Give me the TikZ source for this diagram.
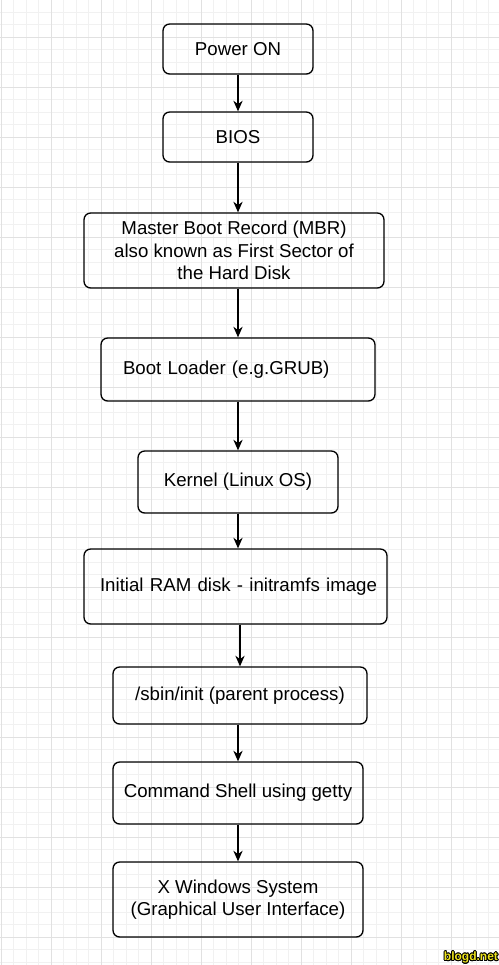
\documentclass[tikz,border=0pt]{standalone}
\usepackage{fontspec}
\setmainfont{Liberation Sans}
\usepackage{xcolor}
\usepackage[copies]{contour}
\usetikzlibrary{arrows.meta,positioning}
\definecolor{gridminor}{RGB}{241,241,241}
\definecolor{gridmajor}{RGB}{225,225,225}
\definecolor{wmyellow}{RGB}{238,228,30}
\tikzstyle{stepbox} = [draw, line width=1pt, rounded corners=5pt, align=center, inner sep=0pt, font=\fontsize{14}{16.8}\selectfont]
\tikzstyle{arrow} = [line width=1pt,->,>={Stealth[length=8pt,width=7pt]}]
\contourlength{0.6pt}

\begin{document}
\begin{tikzpicture}[x=0.75pt, y=-0.75pt]
% page and grid
\fill[white] (0,0) rectangle (499,965);
\useasboundingbox (0,0) rectangle (499,965);
\foreach \gx in {1,13.5,...,499} \draw[gridminor, line width=0.6pt] (\gx,0) -- (\gx,965);
\foreach \gy in {-0.5,12,...,965} \draw[gridminor, line width=0.6pt] (0,\gy) -- (499,\gy);
\foreach \gx in {1,51,...,451} \draw[gridmajor, line width=0.6pt] (\gx,0) -- (\gx,965);
\foreach \gy in {37,87,...,937} \draw[gridmajor, line width=0.6pt] (0,\gy) -- (499,\gy);

% Boot steps
\node[stepbox, minimum width=112.5pt, minimum height=37.5pt] (power) at (238,49) {Power ON};
\node[stepbox, minimum width=112.5pt, minimum height=37.5pt] (bios) at (238,137) {BIOS};
\node[stepbox, minimum width=225pt, minimum height=56.25pt] (mbr) at (234,250.5)
    {Master Boot Record (MBR)\\also known as First Sector of\\the Hard Disk};
\node[stepbox, text width=172.5pt, align=left, inner xsep=16.5pt, minimum height=47.25pt] (loader) at (238,369.5)
    {Boot Loader (e.g.GRUB)};
\node[stepbox, minimum width=150pt, minimum height=46.5pt] (kernel) at (238,482) {Kernel (Linux OS)};
\node[stepbox, text width=212.25pt, align=right, inner xsep=7.5pt, minimum height=56.25pt] (ramdisk) at (235.5,586.5)
    {Initial RAM disk - initramfs image};
\node[stepbox, minimum width=190.5pt, minimum height=42.75pt] (init) at (240,695.5) {/sbin/init (parent process)};
\node[stepbox, minimum width=187.5pt, minimum height=46.5pt] (shell) at (238,793) {Command Shell using getty};
\node[stepbox, minimum width=187.5pt, minimum height=56.25pt] (xwin) at (238,899.5)
    {X Windows System\\(Graphical User Interface)};

% Arrows
\draw[arrow] (power) -- (bios);
\draw[arrow] (bios.south) -- (bios.south |- mbr.north);
\draw[arrow] (mbr.south -| loader.north) -- (loader.north);
\draw[arrow] (loader) -- (kernel);
\draw[arrow] (kernel.south) -- (kernel.south |- ramdisk.north);
\draw[arrow] (ramdisk.south -| init.north) -- (init.north);
\draw[arrow] (init.south -| shell.north) -- (shell.north);
\draw[arrow] (shell) -- (xwin);

% Watermark
\node[anchor=south east, inner sep=0.6pt, font=\bfseries\fontsize{9}{9}\selectfont] (mark) at (499,965)
    {\contour{black}{\textcolor{wmyellow}{blogd.net}}};
\end{tikzpicture}
\end{document}
